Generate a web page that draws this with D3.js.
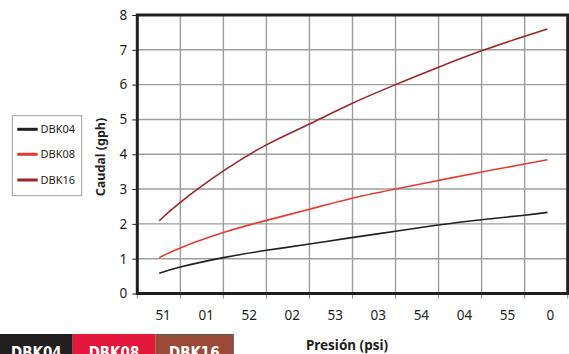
<!DOCTYPE html>
<html><head><meta charset="utf-8">
<script src="https://cdn.jsdelivr.net/npm/d3@7"></script>
<style>body{margin:0;background:#fff}svg{display:block}</style>
</head><body>
<svg id="c" width="569" height="354"></svg>
<script>
// Pressure positions (axis units, 0..10 across the plot) for the sampled points
const pressure = [0.51, 1, 2, 3, 4, 4.9, 6, 7, 8, 9, 9.53];
const dbk04 = [0.58, 0.76, 1.03, 1.24, 1.42, 1.59, 1.79, 1.97, 2.12, 2.25, 2.33];
const dbk08 = [1.03, 1.31, 1.75, 2.10, 2.42, 2.71, 3.00, 3.25, 3.49, 3.72, 3.84];
const dbk16 = [2.09, 2.62, 3.52, 4.27, 4.87, 5.41, 6.00, 6.50, 6.97, 7.39, 7.60];
const xTickLabels = ["51", "01", "52", "02", "53", "03", "54", "04", "55", "0"];
const yTicks = [0, 1, 2, 3, 4, 5, 6, 7, 8];
const seriesNames = ["DBK04", "DBK08", "DBK16"];
const seriesColors = ["#231f20", "#e63b2e", "#9a2824"];
const boxColors = ["#231f20", "#e3173a", "#9a4a36"];

const svg = d3.select("#c");
const L = 137.3, R = 567.7, T = 15, B = 293.5;
const x = d3.scaleLinear().domain([0, 10]).range([L, R]);
const y = d3.scaleLinear().domain([0, 8]).range([B, T]);

// grid
const g = svg.append("g");
g.selectAll("line.vg").data(d3.range(1, 10)).join("line")
  .attr("x1", d => x(d)).attr("x2", d => x(d)).attr("y1", T).attr("y2", B)
  .attr("stroke", "#9d9d9d").attr("stroke-width", 1.4);
g.selectAll("line.hg").data(yTicks.slice(1, -1)).join("line")
  .attr("x1", L).attr("x2", R).attr("y1", d => y(d)).attr("y2", d => y(d))
  .attr("stroke", "#9d9d9d").attr("stroke-width", 1.4);

// y axis
const ya = svg.append("g").attr("transform", `translate(${L},0)`)
  .call(d3.axisLeft(y).tickValues(yTicks).tickFormat(d3.format("d")).tickSize(5).tickPadding(5));
ya.select(".domain").remove();
ya.selectAll(".tick line").attr("stroke", "#231f20").attr("stroke-width", 1);
ya.selectAll(".tick text").attr("font-family", "'Noto Sans', sans-serif").attr("font-size", 13.5).attr("fill", "#231f20");

// x axis ticks
const xa = svg.append("g").attr("transform", `translate(0,${B})`);
xa.selectAll("line").data(d3.range(0, 11)).join("line")
  .attr("x1", d => x(d)).attr("x2", d => x(d)).attr("y1", 0).attr("y2", 5)
  .attr("stroke", "#8a8a8a").attr("stroke-width", 1);
xa.selectAll("text").data(xTickLabels).join("text")
  .attr("x", (d, i) => x(i + 0.6)).attr("y", 26)
  .attr("text-anchor", "middle").attr("font-family", "'Noto Sans', sans-serif")
  .attr("font-size", 13.5).attr("fill", "#231f20").text(d => d);

// frame
svg.append("rect").attr("x", L).attr("y", T).attr("width", R - L).attr("height", B - T)
  .attr("fill", "none").attr("stroke", "#231f20").attr("stroke-width", 3);

// lines
const line = d3.line().x((d, i) => x(pressure[i])).y(d => y(d)).curve(d3.curveNatural);
[dbk04, dbk08, dbk16].forEach((s, k) => {
  svg.append("path").attr("d", line(s)).attr("fill", "none")
    .attr("stroke", seriesColors[k]).attr("stroke-width", 1.6);
});

// axis titles
svg.append("text").attr("transform", "translate(105,157) rotate(-90)")
  .attr("text-anchor", "middle").attr("font-family", "'Noto Sans', sans-serif")
  .attr("font-weight", "bold").attr("font-size", 12.5).attr("fill", "#231f20").text("Caudal (gph)");
svg.append("text").attr("x", 347).attr("y", 350)
  .attr("text-anchor", "middle").attr("font-family", "'Noto Sans', sans-serif")
  .attr("font-weight", "bold").attr("font-size", 13.5).attr("fill", "#231f20").text("Presión (psi)");

// legend
const lg = svg.append("g");
lg.append("rect").attr("x", 12.3).attr("y", 115.7).attr("width", 69.4).attr("height", 80)
  .attr("fill", "#fff").attr("stroke", "#9d9d9d").attr("stroke-width", 1);
seriesNames.forEach((n, i) => {
  const yy = [129.3, 154.3, 180][i];
  lg.append("line").attr("x1", 17.3).attr("x2", 37.7).attr("y1", yy).attr("y2", yy)
    .attr("stroke", seriesColors[i]).attr("stroke-width", 3);
  lg.append("text").attr("x", 40.5).attr("y", yy + 4).attr("font-family", "'Noto Sans', sans-serif")
    .attr("font-size", 11).attr("fill", "#231f20").text(n);
});

// bottom colour boxes
const bx = [0, 72.7, 155.3, 233.3];
seriesNames.forEach((n, i) => {
  svg.append("rect").attr("x", bx[i]).attr("y", 334).attr("width", bx[i + 1] - bx[i]).attr("height", 25)
    .attr("fill", boxColors[i]);
  svg.append("text").attr("x", (bx[i] + bx[i + 1]) / 2).attr("y", 358)
    .attr("text-anchor", "middle").attr("font-family", "'Liberation Sans Narrow', 'DejaVu Sans Condensed', sans-serif")
    .attr("font-weight", "bold").attr("font-size", 15).attr("fill", "#fff").text(n);
});
svg.append("path").attr("d", `M${bx[2]},334.5 H${bx[3]} V354`).attr("fill", "none")
  .attr("stroke", "#555").attr("stroke-width", 1);
</script>
</body></html>
